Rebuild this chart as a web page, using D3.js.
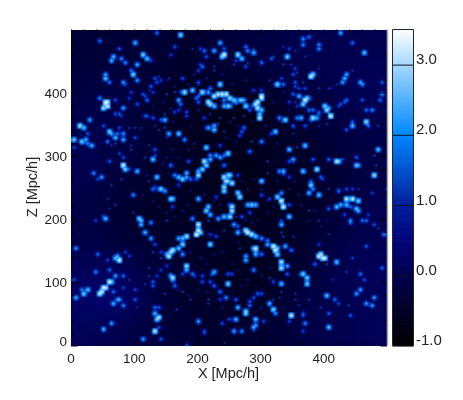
<!DOCTYPE html>
<html>
<head>
<meta charset="utf-8">
<script src="https://cdn.jsdelivr.net/npm/d3@7"></script>
<style>
  body { margin: 0; background: #fff; }
  #my_dataviz { position: relative; width: 463px; height: 400px; }
  canvas, svg { position: absolute; }
  text { font-family: "Liberation Sans", Arial, sans-serif; fill: #222; }
</style>
</head>
<body>
<div id="my_dataviz"></div>
<script>
// colour bar stops
const colorStops = [-1, 0, 0.5, 1, 2, 3, 3.5];
const colorValues = ["#000000", "#00004e", "#00057a", "#001e9c", "#0088ff", "#a5d8ff", "#ffffff"];

const xTicks = [0, 100, 200, 300, 400];
const zTicks = [0, 100, 200, 300, 400];
const minorTicks = [20, 40, 60, 80, 120, 140, 160, 180, 220, 240, 260, 280, 320, 340, 360, 380, 420, 440, 460, 480];
const barTicks = [-1, 0, 1, 2, 3];

// smooth background level, 50 Mpc/h cells, rows from z=500 down to z=0
const backgroundRows = [
  [-0.3, -0.3, -0.3, -0.4, -0.3, -0.2, -0.1, 0.0, 0.0, 0.0],
  [-0.2, -0.2, -0.3, -0.5, -0.4, -0.4, -0.2, -0.1, 0.0, 0.1],
  [-0.1, -0.1, -0.4, -0.6, -0.6, -0.7, -0.5, -0.3, -0.1, 0.0],
  [0.0, -0.1, -0.3, -0.5, -0.6, -0.6, -0.5, -0.4, -0.2, -0.1],
  [0.0, -0.2, -0.4, -0.5, -0.6, -0.7, -0.5, -0.5, -0.3, -0.1],
  [-0.1, -0.3, -0.5, -0.5, -0.6, -0.6, -0.6, -0.5, -0.3, 0.0],
  [-0.1, -0.3, -0.4, -0.5, -0.5, -0.6, -0.5, -0.4, -0.1, 0.0],
  [0.1, 0.1, -0.2, -0.4, -0.5, -0.6, -0.5, -0.3, 0.0, 0.1],
  [0.3, 0.3, -0.1, -0.4, -0.5, -0.5, -0.4, -0.1, 0.0, 0.1],
  [0.1, 0.0, -0.2, -0.3, -0.4, -0.4, -0.3, -0.1, 0.0, 0.1]
];

// bright knots as [x, z, value], grouped by part of the map
const knotsNW = [[136,495,2],[173,492,3],[44,483,2],[101,479,2.6],[164,475,1.7],[77,469,1.8],[237,479,2.5],[241,471,1.8],[228,466,2.5],[243,462,3.5],[238,458,3],[114,462,3],[67,458,2.6],[81,455,2.2],[85,448,2.2],[64,450,2.6],[120,454,2.8],[128,453,1.6],[104,444,2.5],[159,462,1.5],[191,469,1.2],[204,469,1.5],[212,468,2],[214,458,1.7],[204,446,1.5],[208,442,2],[201,436,1.5],[228,441,1.3],[226,436,1.3],[95,437,2],[99,430,3],[56,429,2.4],[54,425,2.8],[62,417,2],[82,417,2.3],[87,413,1.7],[106,420,2.3],[134,422,1.7],[140,426,1.3],[143,421,1.5],[136,418,1.7],[154,424,1.3],[177,424,1.7],[203,416,1.7],[200,413,1.2],[237,414,3],[219,408,2],[217,403,2.5],[207,403,3.2],[193,404,2.8],[181,401,3.2],[172,402,1.6],[163,401,1.3],[153,399,1.4],[126,410,1.8],[129,403,1.5],[122,404,1.2],[96,400,1.5],[114,399,1.7],[117,395,1.6],[119,389,2],[91,392,1.5],[104,383,1.7],[82,378,2.4],[71,388,1.7],[46,392,2.2],[56,387,3.5],[59,386,3.4],[54,383,3.3],[57,379,3.5],[50,376,3.3],[71,366,1.8],[75,366,1.8],[81,363,1.5],[31,359,2.5],[13,347,3.3],[20,346,2.8],[53,348,1.7],[61,339,3],[64,337,2.5],[28,335,1.8],[76,345,1.6],[92,345,1.3],[100,345,1.3],[112,346,1.3],[116,364,1.7],[121,364,1.7],[129,360,1.7],[142,359,1.8],[148,359,2.6],[149,366,1.4],[155,336,2.5],[169,337,2.8],[147,345,1.4],[132,347,1.2],[138,342,1.3],[171,388,2.5],[173,383,2],[170,374,1.5],[163,371,1.5],[184,371,1.6],[182,363,1.5],[202,385,1.8],[198,392,2],[203,396,2],[217,387,3.3],[220,383,3.3],[227,380,2.8],[225,395,3.3],[232,399,3.4],[240,399,3.5],[246,399,3.5],[243,389,2.2],[248,381,3],[243,381,2.6],[210,362,1.5],[217,346,2.5],[226,347,2.5],[226,341,2.8],[213,345,1.6],[236,360,1.3],[200,374,1.2],[158,376,1.1],[221,366,1.2],[232,352,1.3],[242,339,1.3],[74,337,2],[82,336,2.3]];

const knotsNE = [[427,496,2.5],[368,487,2.3],[378,489,2],[368,477,2.2],[391,477,2.2],[393,469,2.3],[444,481,2],[465,465,2.8],[276,475,2],[281,467,2.2],[288,464,2.6],[290,471,1.4],[264,462,3.2],[270,455,2.8],[261,452,1.5],[259,445,1.4],[279,449,1.3],[275,441,1.7],[303,448,2],[317,455,1.8],[321,459,1.4],[342,459,3],[346,471,1.6],[335,474,1.3],[355,467,1.3],[370,458,1.3],[337,446,1.4],[347,445,1.4],[356,439,1.6],[350,431,1.7],[357,433,1.4],[393,440,1.2],[381,427,3.4],[384,429,3],[437,431,2.5],[432,424,2.6],[430,418,2.4],[446,437,1.3],[458,418,2.5],[462,415,2.3],[491,418,1.9],[491,399,2.3],[489,389,2],[460,389,1.8],[467,372,2],[476,374,2.2],[332,424,1.5],[328,415,3],[337,413,2],[354,418,1.8],[354,410,1.6],[360,409,1.5],[367,417,1.3],[369,409,1.6],[313,421,1.3],[321,413,1.1],[353,399,1.8],[362,396,2.6],[369,388,3.5],[372,392,3],[375,391,2.2],[367,383,3],[358,379,1.5],[345,387,1.5],[354,387,1.3],[393,409,1.4],[408,408,1.3],[419,413,1.3],[412,407,1.2],[403,380,3],[405,373,3.2],[407,378,2.5],[411,364,3.5],[437,388,2],[432,385,1.8],[427,383,1.8],[423,381,1.5],[376,374,2],[382,374,2],[391,371,1.8],[393,366,1.9],[384,360,3.3],[388,362,2.5],[379,357,2],[371,350,1.7],[363,362,2.6],[357,362,2.2],[340,359,3],[330,362,2.2],[352,350,1.8],[332,355,1.3],[298,360,3.4],[297,366,2.8],[303,396,3.5],[300,392,3.4],[296,387,3.4],[293,382,3.4],[295,376,3.4],[302,375,2.8],[271,390,2.8],[253,392,3.2],[258,389,3],[262,385,2.4],[267,390,2.8],[272,388,2.5],[276,380,3],[252,379,2.5],[287,381,1.6],[282,374,1.8],[288,404,1.5],[302,406,1.5],[467,354,3.2],[470,347,2],[446,354,1.8],[445,347,2.7],[436,341,1.8],[487,348,1.4],[322,339,2.8],[316,336,1.6],[274,345,2],[270,339,1.8],[268,334,1.6],[258,360,1.4],[274,364,1.3],[307,347,1.1],[350,337,1.2],[392,347,1.2],[404,351,1.3]];

const knotsW = [[6,326,3],[18,323,3],[24,328,2.6],[26,320,2.2],[33,316,2.6],[4,315,1.6],[58,324,2],[71,329,2.7],[82,328,2.5],[103,330,1.7],[71,319,1.4],[95,316,1.2],[63,316,1.2],[179,328,2.2],[124,316,1.2],[133,311,1.7],[75,305,1.5],[82,299,1.6],[96,310,1.3],[61,292,1.8],[84,285,3.5],[86,279,3],[92,280,1.6],[104,278,2.6],[129,296,2.8],[132,303,1.5],[117,300,1.4],[158,287,2],[187,292,1.7],[213,315,2.9],[211,292,3.3],[213,287,3],[221,295,2.6],[220,303,2.2],[230,303,2.4],[236,300,2.5],[242,303,2],[235,316,1.5],[248,305,3],[241,287,2],[248,271,3],[242,266,3.3],[245,261,3.3],[249,261,3],[208,279,3],[200,271,3.2],[200,277,2.5],[184,272,2.6],[182,266,2.5],[175,265,3],[170,266,2.8],[164,269,2.2],[190,265,2],[199,263,1.8],[137,266,2.8],[124,261,1.3],[132,253,1.5],[143,250,3],[138,249,2.2],[148,245,2.4],[129,250,2],[158,234,3],[161,232,2.8],[202,233,2.6],[170,254,1.5],[242,252,3.2],[242,246,3],[229,237,1.5],[36,273,2.2],[49,266,2.4],[43,265,1.6],[79,265,1.4],[97,240,2.2],[63,256,1.3],[57,232,1.2],[162,221,1.5],[213,213,3],[216,219,2.8],[221,208,2.6],[232,203,2.4],[243,206,2.8],[250,206,2.6],[192,201,2.2],[203,192,3.4],[200,184,3.5],[199,177,3.5],[206,179,3],[184,173,3.2],[177,171,2.8],[171,169,2.5],[108,203,3],[110,198,2.8],[112,191,2.6],[125,195,2.2],[53,204,1.8],[56,203,2.7],[38,200,1.5],[117,180,2.6],[125,170,2.4],[150,199,1.4],[216,198,1.4],[220,177,1.5],[229,174,1.6],[242,182,1.3],[69,224,1.3],[61,216,1.2],[97,211,1.4]];

const knotsE = [[303,324,2.2],[285,324,1.4],[282,308,2],[346,312,2.7],[370,317,2.8],[359,315,1.4],[353,296,2.4],[344,292,1.7],[350,292,1.7],[382,295,1.8],[420,292,3.3],[423,291,3],[407,294,1.9],[390,281,3.2],[367,278,2.8],[451,299,1.8],[452,287,2.8],[456,287,2.5],[429,295,1.5],[485,311,2.8],[487,311,2.6],[479,303,1.4],[482,287,1.4],[480,271,3.2],[499,249,1.2],[330,278,2.2],[336,278,2.6],[337,273,2],[345,268,1.5],[302,262,2.8],[311,291,1.4],[311,274,1.3],[253,271,3],[254,257,3.2],[263,271,1.5],[263,241,3],[267,235,3.2],[279,224,2.6],[287,224,3],[291,222,2.6],[253,224,2],[255,219,3.3],[254,213,3.3],[252,205,3.2],[259,192,2.4],[263,189,1.8],[264,179,2.6],[276,184,3.3],[281,180,3.5],[286,178,3.3],[293,173,2.8],[300,169,2.2],[311,168,2],[326,236,3],[333,242,2.2],[333,229,3.5],[336,220,3.5],[345,222,1.7],[345,204,2.8],[332,191,2.6],[332,198,1.5],[337,174,1.4],[379,256,3],[381,261,1.8],[376,243,2.6],[384,248,2.2],[392,238,2.8],[395,266,1.9],[397,263,1.5],[419,220,2.8],[427,224,2.6],[435,224,2.8],[442,220,2],[437,233,3.4],[445,233,3.4],[454,231,3],[450,216,2.8],[454,215,2.6],[442,200,2.2],[442,194,2],[460,199,2],[467,199,2],[432,207,1.6],[471,208,1.5],[479,192,1.7],[495,177,2.2],[485,187,1.3],[378,213,1.4],[408,216,1.8],[424,245,2],[436,248,1.7],[444,249,1.5],[456,248,1.3],[409,250,1.4],[476,241,1.5],[313,234,1.5],[303,240,1.6],[290,224,1.6],[282,211,1.6],[271,206,1.7],[261,206,1.3],[332,179,1.3],[350,174,1.2],[392,200,1.3],[408,177,1.2]];

const knotsSW = [[9,155,2.3],[42,144,2],[75,137,3.5],[71,139,2.8],[78,135,3.4],[74,142,2.5],[58,137,1.6],[38,117,2.2],[62,119,2],[4,104,1.8],[71,111,2.4],[83,111,2],[91,105,1.3],[62,103,3.5],[65,102,3],[53,91,3.5],[48,87,3.5],[45,84,3.4],[55,93,3.4],[28,90,2.8],[21,84,3],[17,88,2.2],[66,86,2],[83,92,1.6],[7,76,2.6],[74,75,2.4],[78,74,2.4],[67,68,2.6],[82,65,2.2],[100,88,1.6],[101,74,1.8],[105,62,1.2],[63,35,2.4],[50,27,2.6],[114,12,2.4],[143,10,1.8],[184,1,1.7],[243,5,1.3],[132,62,2],[140,60,1.8],[132,52,2.6],[131,47,1.4],[138,44,3.3],[136,43,3],[138,30,1.6],[133,22,3.4],[203,39,2.4],[238,36,1.6],[210,23,1.7],[212,20,1.5],[247,43,1.4],[160,109,3.3],[158,111,2.6],[161,105,2.4],[164,95,2],[184,126,3.2],[182,119,2.6],[178,114,1.6],[158,148,3.2],[162,152,3.4],[155,141,3.4],[150,144,2.6],[170,155,2.8],[178,146,2.3],[175,162,3],[219,160,3],[141,149,1.5],[91,142,1.5],[87,148,1.5],[129,147,1.4],[132,162,1.6],[143,138,1.4],[150,127,1.5],[124,124,1.3],[124,111,1.4],[136,111,1.5],[142,119,1.5],[129,101,1.9],[129,95,1.8],[117,97,1.3],[149,82,1.4],[177,85,1.4],[191,113,2],[196,111,1.5],[228,117,2.6],[224,113,2],[219,102,1.7],[207,111,1.6],[208,103,1.7],[248,98,3],[246,78,2.2],[237,87,2],[236,73,1.5],[228,95,1.9],[216,74,1.4],[216,67,1.3],[168,59,1.3],[190,74,1.3],[248,115,1.8]];

const knotsSE = [[399,140,3.5],[392,142,3.5],[403,140,3.4],[395,144,3.3],[387,130,1.9],[420,132,2.8],[405,131,1.4],[466,157,1.9],[446,140,1.5],[493,125,2],[437,116,1.4],[458,115,2],[465,105,1.7],[413,105,1.2],[393,161,1.5],[319,158,3.5],[324,152,3.5],[328,156,2.8],[327,146,3],[312,161,2.5],[340,159,2.5],[347,153,2],[332,132,3.3],[334,124,3.3],[343,128,2.4],[293,156,3.3],[291,151,3],[293,146,2.6],[288,156,2.8],[301,146,2],[276,143,2.4],[276,135,2.6],[266,156,1.3],[290,119,2.2],[255,113,1.6],[368,115,3],[372,109,3],[372,97,3],[342,114,1.8],[361,115,1.4],[333,97,2.7],[321,102,1.6],[313,107,1.4],[405,80,2.8],[417,73,2],[422,67,1.6],[450,82,2.4],[458,88,2.4],[481,78,2.4],[466,67,2.4],[477,65,2.4],[440,63,1.4],[442,47,1.8],[407,53,1.9],[368,52,1.7],[368,47,1.8],[347,47,3.4],[346,38,1.6],[371,35,2.2],[407,30,2.8],[366,22,1.6],[321,59,3],[323,53,2.2],[313,66,2.6],[277,53,3],[276,56,3],[283,64,2],[284,70,1.8],[265,62,2.6],[261,74,1.8],[288,77,1.7],[295,82,1.9],[302,82,1.7],[291,32,2.4],[293,43,2.7],[288,31,2.6],[261,43,2.6],[259,22,2.4],[269,22,2.2],[250,43,1.5],[305,38,1.6],[290,24,1.3],[354,82,1.3],[354,74,1.3],[361,64,1.3],[376,74,1.3],[395,60,1.3],[333,85,1.3],[329,77,1.2],[319,74,1.3]];

// the dim specks around the filaments
const knotsFaint = [[120,270,1],[150,300,0.9],[160,310,1],[170,300,0.8],[185,310,0.9],[195,320,1],[145,290,0.9],[155,275,0.8],[115,240,1],[130,230,0.9],[140,220,0.8],[150,210,1],[165,205,0.9],[175,215,0.9],[185,225,1],[190,245,0.8],[210,240,1],[225,230,0.9],[235,225,1],[245,235,0.8],[270,260,0.9],[280,250,1],[290,265,0.8],[300,250,0.9],[310,230,1],[320,220,0.9],[325,260,0.8],[345,250,0.9],[355,260,0.9],[360,240,1],[365,225,0.9],[375,200,0.9],[385,215,0.8],[395,190,0.9],[405,200,0.8],[310,210,0.9],[295,200,1],[285,195,0.9],[275,200,0.8],[265,165,0.9],[190,150,0.9],[205,140,1],[215,130,0.8],[225,145,0.9],[240,150,1],[255,130,0.8],[265,120,0.9],[280,105,1],[300,110,0.9],[315,125,0.8],[170,90,0.9],[185,80,1],[200,90,0.8],[215,85,0.9],[240,60,1],[255,85,0.8],[270,95,0.9],[300,60,0.9],[335,60,0.8],[150,420,0.9],[165,410,1],[185,415,0.8],[195,430,0.9],[215,425,1],[240,430,0.8],[255,415,0.9],[275,420,1],[285,405,0.8],[310,395,0.9],[320,385,1],[335,400,0.9],[345,375,0.8],[355,345,1],[130,380,0.9],[145,385,1],[160,355,0.9],[190,350,0.8],[250,355,1],[265,350,0.9],[285,355,0.8],[305,325,1],[325,320,0.9],[245,330,1],[260,325,0.9],[150,330,1]];

const knots = [knotsNW, knotsNE, knotsW, knotsE, knotsSW, knotsSE, knotsFaint].flat();

var margin = {top: 29.5, left: 71},
  width = 316,
  height = 316,
  gridSize = 160,
  barLeft = 392.5,
  barWidth = 21;

var x = d3.scaleLinear().domain([0, 500]).range([0, width]);
var z = d3.scaleLinear().domain([0, 500]).range([height, 0]);
var color = d3.scaleLinear().domain(colorStops).range(colorValues).clamp(true);

// the image sits on a canvas under the svg
var canvas = d3.select("#my_dataviz").append("canvas")
  .attr("width", width)
  .attr("height", height)
  .style("left", margin.left + "px")
  .style("top", margin.top + "px");
var ctx = canvas.node().getContext("2d");
ctx.imageSmoothingEnabled = true;
ctx.imageSmoothingQuality = "high";

function smallCanvas(w, h) {
  var c = document.createElement("canvas");
  c.width = w;
  c.height = h;
  return c;
}

// background: 10x10 tiles scaled up by the browser
var bg = smallCanvas(10, 10);
var bgCtx = bg.getContext("2d");
backgroundRows.forEach(function (row, r) {
  row.forEach(function (v, c) {
    bgCtx.fillStyle = color(v);
    bgCtx.fillRect(c, r, 1, 1);
  });
});
ctx.drawImage(bg, 0, 0, width, height);
ctx.imageSmoothingQuality = "low";

// knots go in a value grid, each one bleeds a little into its neighbours
var cellX = d3.scaleLinear().domain([0, 500]).range([0, gridSize]);
var cellZ = d3.scaleLinear().domain([0, 500]).range([gridSize, 0]);
var grid = new Float32Array(gridSize * gridSize).fill(NaN);

function deposit(i, j, v) {
  if (i < 0 || j < 0 || i >= gridSize || j >= gridSize) return;
  var k = j * gridSize + i;
  if (isNaN(grid[k]) || grid[k] < v) grid[k] = v;
}

knots.forEach(function (d) {
  var i = Math.floor(cellX(d[0]));
  var j = Math.floor(cellZ(d[1]));
  deposit(i, j, d[2]);
  if (d[2] >= 1.5) {
    [[1, 0], [-1, 0], [0, 1], [0, -1]].forEach(function (o) {
      deposit(i + o[0], j + o[1], d[2] - 0.9);
    });
    [[1, 1], [-1, 1], [1, -1], [-1, -1]].forEach(function (o) {
      deposit(i + o[0], j + o[1], d[2] - 1.4);
    });
  }
});

var fg = smallCanvas(gridSize, gridSize);
var fgCtx = fg.getContext("2d");
var img = fgCtx.createImageData(gridSize, gridSize);
grid.forEach(function (v, k) {
  if (isNaN(v)) return;
  var c = d3.rgb(color(v));
  img.data[k * 4] = c.r;
  img.data[k * 4 + 1] = c.g;
  img.data[k * 4 + 2] = c.b;
  img.data[k * 4 + 3] = 255;
});
fgCtx.putImageData(img, 0, 0);
ctx.drawImage(fg, 0, 0, width, height);

var svg = d3.select("#my_dataviz")
  .append("svg")
    .attr("width", 463)
    .attr("height", 400);

var plot = svg.append("g").attr("transform", "translate(" + margin.left + "," + margin.top + ")");

// ticks on all four sides, pointing in
function addTicks(axisFn, scale, values, size, tx, ty) {
  var g = plot.append("g")
    .attr("transform", "translate(" + tx + "," + ty + ")")
    .call(axisFn(scale).tickValues(values).tickSize(-size).tickFormat(""));
  g.select(".domain").remove();
  g.selectAll("line").attr("stroke", "#000");
}
[[xTicks, 6.5], [minorTicks, 3.5]].forEach(function (t) {
  addTicks(d3.axisBottom, x, t[0], t[1], 0, height);
  addTicks(d3.axisTop, x, t[0], t[1], 0, 0);
  addTicks(d3.axisLeft, z, t[0], t[1], 0, 0);
  addTicks(d3.axisRight, z, t[0], t[1], width, 0);
});

plot.append("line")
  .attr("x1", width + 0.5).attr("x2", width + 0.5)
  .attr("y1", 0).attr("y2", height)
  .attr("stroke", "#a9adb8").attr("stroke-width", 1.5);

// tick labels
plot.append("g").selectAll("text").data(xTicks).enter().append("text")
  .attr("x", function (d) { return x(d); })
  .attr("y", height + 17.5)
  .attr("text-anchor", "middle")
  .attr("font-size", 13.5)
  .text(function (d) { return d; });

plot.append("g").selectAll("text").data(zTicks).enter().append("text")
  .attr("x", -4)
  .attr("y", function (d) { return z(d) + (d == 0 ? 0.5 : 5); })
  .attr("text-anchor", "end")
  .attr("font-size", 13.5)
  .text(function (d) { return d; });

svg.append("text")
  .attr("x", 228.5).attr("y", 378)
  .attr("text-anchor", "middle")
  .attr("font-size", 14.5)
  .text("X [Mpc/h]");

svg.append("text")
  .attr("transform", "translate(37,187) rotate(-90)")
  .attr("text-anchor", "middle")
  .attr("font-size", 14.5)
  .text("Z [Mpc/h]");

// colour bar
var barY = d3.scaleLinear().domain([-1, 3.5]).range([height, 0]);
var bar = svg.append("g").attr("transform", "translate(" + barLeft + "," + margin.top + ")");

bar.selectAll("rect").data(d3.range(-1, 3.5, 0.02)).enter().append("rect")
  .attr("y", function (d) { return barY(d + 0.02); })
  .attr("width", barWidth)
  .attr("height", barY(-1) - barY(-0.97))
  .attr("fill", function (d) { return color(d); });

var barAxis = bar.append("g")
  .call(d3.axisRight(barY).tickValues(barTicks).tickSize(-barWidth).tickFormat(""));
barAxis.select(".domain").remove();
barAxis.selectAll("line").attr("stroke", "#10131c").attr("transform", "translate(" + barWidth + ",0)");

bar.append("path")
  .attr("d", "M0," + height + "V0H" + barWidth + "V" + height)
  .attr("fill", "none")
  .attr("stroke", "#23252b");

bar.selectAll(".barLabel").data(barTicks).enter().append("text")
  .attr("class", "barLabel")
  .attr("x", barWidth + 2.5)
  .attr("y", function (d) { return barY(d) - 0.5; })
  .attr("font-size", 15)
  .text(function (d) { return d.toFixed(1); });
</script>
</body>
</html>
